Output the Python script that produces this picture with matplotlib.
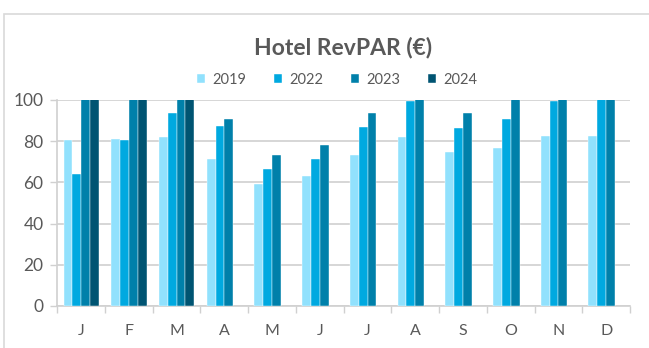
import numpy as np
import matplotlib
matplotlib.use("Agg")
import matplotlib.pyplot as plt
from matplotlib.patches import Rectangle

months = ["J", "F", "M", "A", "M", "J", "J", "A", "S", "O", "N", "D"]
years = ["2019", "2022", "2023", "2024"]
rev_2019 = [80.4, 81.1, 82.0, 71.2, 59.4, 63.0, 73.1, 81.9, 74.9, 76.7, 82.5, 82.4]
rev_2022 = [64.1, 80.6, 93.5, 87.5, 66.3, 71.4, 86.9, 99.5, 86.6, 90.6, 99.5, 101.5]
rev_2023 = [104.0, 106.0, 112.0, 90.6, 73.3, 78.2, 93.5, 108.0, 93.7, 101.0, 104.0, 110.0]
rev_2024 = [108.0, 110.0, 118.0, np.nan, np.nan, np.nan, np.nan, np.nan, np.nan, np.nan, np.nan, np.nan]
series = [rev_2019, rev_2022, rev_2023, rev_2024]
colors = ["#91E1FD", "#00A9E0", "#0080AA", "#005472"]
yticks = [0, 20, 40, 60, 80, 100]

W, H = 649, 348
fig = plt.figure(figsize=(W / 100, H / 100), dpi=100)
font = ["Lato", "DejaVu Sans"]
plt.rcParams["font.family"] = font
text_col = "#595959"
grid_col = "#D0D0D0"

# chart frame
fig.patches.append(Rectangle((3.5 / W, -0.2), 1.2, 0.2 + (H - 13.5) / H,
                             transform=fig.transFigure, fill=False,
                             edgecolor="#D9D9D9", linewidth=1.2))

ax = fig.add_axes([57.3 / W, (H - 306) / H, (630 - 57.3) / W, 206 / H])
x = np.arange(len(months))
bw = 0.185
for i, (vals, col, yr) in enumerate(zip(series, colors, years)):
    ax.bar(x + (i - 1.5) * bw, vals, width=bw, color=col, label=yr,
           edgecolor="white", linewidth=0.3, zorder=3)

ax.set_xlim(-0.5, len(months) - 0.5)
ax.set_ylim(0, 100)
ax.set_yticks(yticks)
ax.set_yticklabels([str(v) for v in yticks], fontsize=12.5, color=text_col)
ax.tick_params(axis="y", length=5, color=grid_col, width=1, pad=5)
ax.grid(axis="y", color=grid_col, linewidth=1.2, zorder=0)

# month labels centred, tick marks on category boundaries
ax.set_xticks(np.arange(-0.5, len(months) + 0.5, 1.0))
ax.set_xticklabels([])
ax.tick_params(axis="x", length=5, color=grid_col, width=1)
ax.set_xticks(x, minor=True)
ax.set_xticklabels(months, minor=True, fontsize=11.5, color=text_col)
ax.tick_params(axis="x", which="minor", length=0, pad=13)

for side in ["top", "right"]:
    ax.spines[side].set_visible(False)
for side in ["left", "bottom"]:
    ax.spines[side].set_color(grid_col)
    ax.spines[side].set_linewidth(1.2)

fig.text(343 / W, 1 - 47 / H, "Hotel RevPAR (€)", ha="center", va="center",
         fontsize=16.5, fontweight="bold", color=text_col)
leg = fig.legend(loc="center", bbox_to_anchor=(337.5 / W, 1 - 80 / H), ncol=4,
                 frameon=False, fontsize=10.5, handlelength=0.55, handleheight=0.55,
                 handletextpad=0.5, columnspacing=1.9, labelcolor=text_col)

fig.savefig("out.png", dpi=100)
